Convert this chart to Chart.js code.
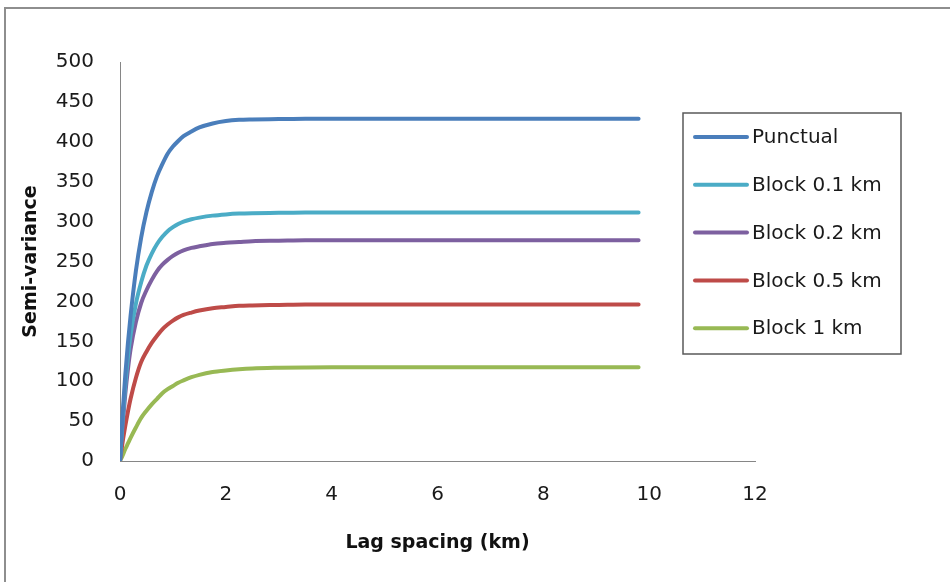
<!DOCTYPE html>
<html>
<head>
<meta charset="utf-8">
<script src="https://cdn.jsdelivr.net/npm/chart.js@4/dist/chart.umd.min.js"></script>
<style>
  html, body { margin: 0; padding: 0; background: #fff; overflow: hidden; }
  canvas { display: block; }
</style>
</head>
<body>
<canvas id="myChart" width="950" height="582"></canvas>
<script>
// lag distances (km) where the curves were read
const lagKm = [0, 0.05, 0.1, 0.15, 0.2, 0.3, 0.4, 0.5, 0.6, 0.7, 0.8, 0.9, 1.0, 1.1, 1.2, 1.35, 1.5, 1.75, 2, 2.25, 2.5, 3, 3.5, 4, 5, 6, 8, 9.8]

const punctual = [0, 60, 108, 148, 182, 238, 280, 312, 337, 357, 372, 385, 394, 401, 407, 413, 418, 423, 426, 427.5, 428, 428.5, 429, 429, 429, 429, 429, 429]
const block01  = [0, 52, 95, 130, 158, 197, 224, 245, 260, 272, 281, 288, 293, 297, 300, 303, 305, 307.5, 309, 310, 310.5, 311, 311.5, 311.5, 311.5, 311.5, 311.5, 311.5]
const block02  = [0, 45, 84, 115, 140, 174, 198, 214, 227, 238, 246, 252, 257, 261, 264, 267, 269, 272, 273.5, 274.5, 275.5, 276, 276.5, 276.5, 276.5, 276.5, 276.5, 276.5]
const block05  = [0, 24, 44, 62, 78, 104, 124, 137, 148, 157, 165, 171, 176, 180, 183, 186, 188.5, 191.5, 193, 194.5, 195, 195.5, 196, 196, 196, 196, 196, 196]
const block1   = [0, 7, 15, 22, 29, 42, 54, 63, 71, 78, 85, 90, 94, 98, 101, 105, 108, 111.5, 113.5, 115, 116, 116.8, 117.2, 117.4, 117.4, 117.4, 117.4, 117.4]

const seriesNames = ['Punctual', 'Block 0.1 km', 'Block 0.2 km', 'Block 0.5 km', 'Block 1 km']
const seriesValues = [punctual, block01, block02, block05, block1]
const seriesColors = ['#4a7ebb', '#4bacc6', '#7d60a0', '#be4b48', '#98b954']

const xTicks = [0, 2, 4, 6, 8, 10, 12]
const yTicks = [0, 50, 100, 150, 200, 250, 300, 350, 400, 450, 500]

const font = '"DejaVu Sans", sans-serif'

const datasets = seriesValues.map((vals, i) => ({
    label: seriesNames[i],
    data: vals.map((v, j) => ({ x: lagKm[j], y: v })),
    borderColor: seriesColors[i],
    backgroundColor: seriesColors[i],
    borderWidth: 4,
    borderCapStyle: 'round',
    borderJoinStyle: 'round',
    pointRadius: 0,
    cubicInterpolationMode: 'monotone',
    fill: false
}))

// grey frame of the chart object (only left and top edges are in view)
const outerFrame = {
    id: 'outerFrame',
    beforeDraw(chart) {
        const ctx = chart.ctx
        ctx.save()
        ctx.strokeStyle = '#8e8e8e'
        ctx.lineWidth = 2
        ctx.beginPath()
        ctx.moveTo(5, chart.height)
        ctx.lineTo(5, 8)
        ctx.lineTo(chart.width, 8)
        ctx.stroke()
        ctx.restore()
    }
}

// boxed legend on the right, drawn like the spreadsheet one
const boxLegend = {
    id: 'boxLegend',
    afterDraw(chart) {
        const ctx = chart.ctx
        ctx.save()
        ctx.strokeStyle = '#595959'
        ctx.lineWidth = 1.5
        ctx.strokeRect(683, 113, 218, 241)
        ctx.font = '20px ' + font
        ctx.textBaseline = 'middle'
        ctx.fillStyle = '#1a1a1a'
        chart.data.datasets.forEach((ds, i) => {
            const y = 137 + i * 47.8
            ctx.strokeStyle = ds.borderColor
            ctx.lineWidth = 4
            ctx.lineCap = 'round'
            ctx.beginPath()
            ctx.moveTo(695, y)
            ctx.lineTo(747, y)
            ctx.stroke()
            ctx.fillText(ds.label, 752, y + 1)
        })
        ctx.restore()
    }
}

new Chart(document.getElementById('myChart'), {
    type: 'line',
    data: { datasets },
    options: {
        responsive: false,
        animation: false,
        layout: { padding: { top: 62, right: 195, bottom: 0, left: 0 } },
        plugins: { legend: { display: false }, tooltip: { enabled: false } },
        scales: {
            x: {
                type: 'linear',
                min: 0,
                max: 12,
                afterBuildTicks: (s) => { s.ticks = xTicks.map(v => ({ value: v })) },
                afterFit: (s) => { s.height = 121 },
                grid: { display: false, drawTicks: false },
                border: { color: '#868686', width: 1 },
                ticks: { color: '#1a1a1a', padding: 22, font: { family: font, size: 20 } },
                title: {
                    display: true,
                    text: 'Lag spacing (km)',
                    color: '#111',
                    padding: { top: 0, bottom: 28 },
                    font: { family: font, size: 19, weight: 'bold' }
                }
            },
            y: {
                min: 0,
                max: 500,
                afterBuildTicks: (s) => { s.ticks = yTicks.map(v => ({ value: v })) },
                afterFit: (s) => { s.width = 120 },
                grid: { display: false, drawTicks: false },
                border: { color: '#868686', width: 1 },
                ticks: { color: '#1a1a1a', padding: 26, font: { family: font, size: 20 } },
                title: {
                    display: true,
                    text: 'Semi-variance',
                    color: '#111',
                    padding: { top: 20, bottom: 0 },
                    font: { family: font, size: 19, weight: 'bold' }
                }
            }
        }
    },
    plugins: [outerFrame, boxLegend]
})
</script>
</body>
</html>
